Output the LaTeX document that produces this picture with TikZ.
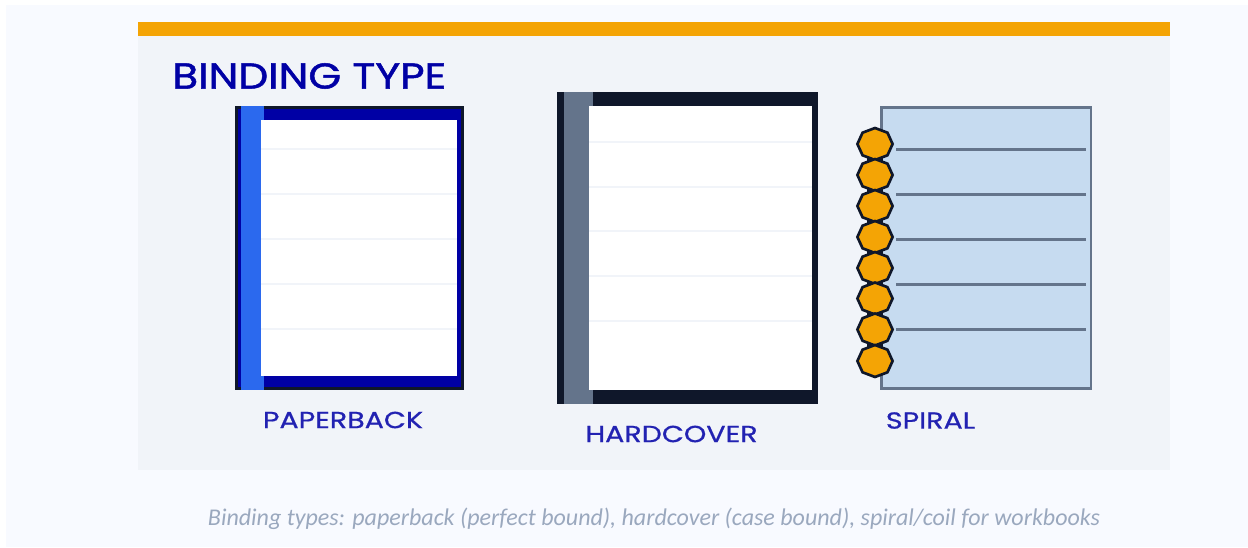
\documentclass[tikz,border=0pt]{standalone}
\usepackage{fontspec}
\setmainfont{Poppins}
\newfontfamily\titlefont[FakeStretch=1.175, FakeBold=1.4]{Poppins}
\newfontfamily\labelfont[FakeStretch=1.23, FakeBold=0.8]{Poppins}
\newfontfamily\captionfont{Carlito}
\usetikzlibrary{shapes.geometric}
\definecolor{pagebg}{HTML}{F8FAFF}
\definecolor{panelbg}{HTML}{F1F4F9}
\definecolor{barorange}{HTML}{F4A405}
\definecolor{inkdark}{HTML}{0F172A}
\definecolor{navyblue}{HTML}{0000A5}
\definecolor{spineblue}{HTML}{2B69EE}
\definecolor{slategrey}{HTML}{64748B}
\definecolor{paleblue}{HTML}{C6DBF0}
\definecolor{labelblue}{HTML}{2222B2}
\definecolor{captiongrey}{HTML}{9AA8BE}
\tikzset{
    ruleline/.style={draw=panelbg, line width=2.2pt},
    spiralline/.style={draw=slategrey, line width=1.9pt},
    coilring/.style={draw=inkdark, fill=barorange, regular polygon, regular polygon sides=8, shape border rotate=22.5, line width=2pt, minimum size=24pt, inner sep=0pt, outer sep=0pt, transform shape, xscale=1.1},
    booklabel/.style={font=\labelfont\fontsize{17.4pt}{20pt}\selectfont, text=labelblue, inner sep=0pt},
}
\begin{document}
\begin{tikzpicture}[x=0.75pt, y=-0.75pt]
\useasboundingbox (0,0) rectangle (1248,548);
\fill[white] (0,0) rectangle (1248,548);
\fill[pagebg] (6,5) rectangle (1248,547);
\fill[panelbg] (138,36) rectangle (1170,470);
\fill[barorange] (138,22) rectangle (1170,36);
\node[font=\titlefont\fontsize{27pt}{30pt}\selectfont, text=navyblue, anchor=west, inner sep=0pt] (title) at (172,76) {BINDING TYPE};
% paperback
\fill[inkdark] (235,106) rectangle (464,390);
\fill[navyblue] (238,109) rectangle (461,387);
\fill[spineblue] (241,106) rectangle (264,390);
\fill[white] (261,120) rectangle (457,376);
\foreach \y in {149,194,239,284,329} \draw[ruleline] (261,\y) -- (457,\y);
\node[booklabel] (paperback) at (343,420) {PAPERBACK};
% hardcover
\fill[inkdark] (557,92) rectangle (818,404);
\fill[slategrey] (564,92) rectangle (593,404);
\fill[white] (589,106) rectangle (812,390);
\foreach \y in {142,187,231,276,321} \draw[ruleline] (589,\y) -- (812,\y);
\node[booklabel] (hardcover) at (671.5,434) {HARDCOVER};
% spiral
\draw[draw=slategrey, fill=paleblue, line width=2.2pt] (881.5,107.5) rectangle (1091,388.5);
\foreach \y in {149.5,194.5,239.5,284.5,329.5} \draw[spiralline] (896,\y) -- (1086,\y);
\fill[inkdark] (867,144) rectangle (883,361);
\foreach \y [count=\i] in {144,175,206,237,268,298.5,329.5,361} \node[coilring] (coil\i) at (875,\y) {};
\node[booklabel] (spiral) at (930.5,420.5) {SPIRAL};
\node[font=\captionfont\itshape\fontsize{18pt}{20pt}\selectfont, text=captiongrey, inner sep=0pt] (caption) at (654,518.5) {Binding types: paperback (perfect bound), hardcover (case bound), spiral/coil for workbooks};
\end{tikzpicture}
\end{document}
